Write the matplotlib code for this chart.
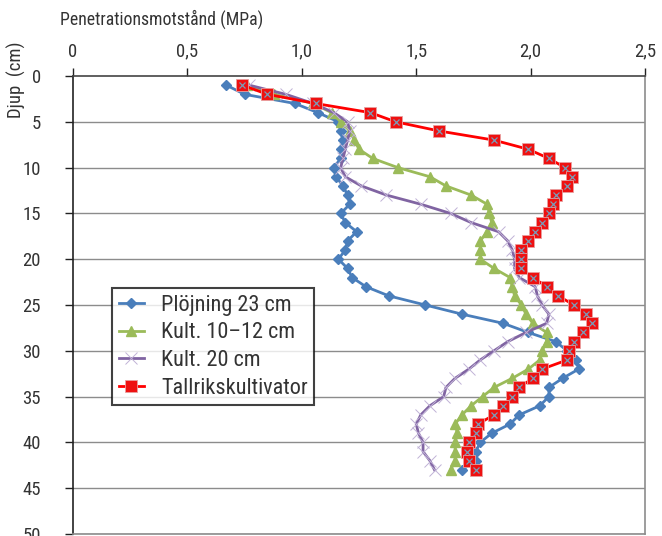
import numpy as np
import matplotlib
matplotlib.use("Agg")
import matplotlib.pyplot as plt
from matplotlib import font_manager

# Penetration resistance profiles per tillage method, one reading per cm of depth
depth = list(range(1, 44))

plojning = [0.67, 0.75, 0.97, 1.07, 1.16, 1.17, 1.18, 1.17, 1.17, 1.14,
            1.15, 1.18, 1.20, 1.21, 1.17, 1.19, 1.24, 1.20, 1.19, 1.16,
            1.20, 1.22, 1.28, 1.38, 1.54, 1.70, 1.88, 1.99, 2.11, 2.16,
            2.20, 2.21, 2.14, 2.08, 2.08, 2.04, 1.95, 1.91, 1.83, 1.78,
            1.76, 1.76, 1.70]

kult_10_12 = [0.76, 0.88, 1.05, 1.13, 1.17, 1.21, 1.23, 1.25, 1.31, 1.42,
              1.56, 1.63, 1.74, 1.81, 1.82, 1.83, 1.81, 1.78, 1.78, 1.78,
              1.84, 1.91, 1.92, 1.93, 1.96, 1.98, 2.01, 2.07, 2.07, 2.05,
              2.04, 1.99, 1.92, 1.84, 1.79, 1.74, 1.70, 1.67, 1.68, 1.67,
              1.67, 1.67, 1.65]

kult_20 = [0.77, 0.93, 1.05, 1.14, 1.20, 1.21, 1.20, 1.19, 1.18, 1.17,
           1.19, 1.26, 1.37, 1.52, 1.65, 1.74, 1.86, 1.90, 1.92, 1.93,
           1.93, 1.95, 2.02, 2.03, 2.05, 2.08, 2.07, 1.98, 1.90, 1.84,
           1.78, 1.73, 1.67, 1.63, 1.62, 1.56, 1.52, 1.50, 1.51, 1.53,
           1.53, 1.56, 1.58]

tallrik = [0.74, 0.85, 1.06, 1.30, 1.41, 1.60, 1.84, 1.99, 2.08, 2.15,
           2.18, 2.16, 2.11, 2.10, 2.08, 2.05, 2.02, 1.99, 1.96, 1.96,
           1.96, 2.01, 2.07, 2.12, 2.19, 2.24, 2.27, 2.23, 2.19, 2.17,
           2.16, 2.05, 2.01, 1.95, 1.92, 1.88, 1.84, 1.77, 1.76, 1.73,
           1.72, 1.73, 1.76]

labels = ["Plöjning 23 cm", "Kult. 10–12 cm", "Kult. 20 cm", "Tallrikskultivator"]
x_ticks = [0, 0.5, 1.0, 1.5, 2.0, 2.5]
x_ticklabels = ["0", "0,5", "1,0", "1,5", "2,0", "2,5"]
y_ticks = list(range(0, 55, 5))

installed = {f.name for f in font_manager.fontManager.ttflist}
family = [f for f in ["Roboto Condensed", "Liberation Sans Narrow", "Roboto"] if f in installed]
plt.rcParams["font.family"] = family + ["DejaVu Sans"]
narrow = family[0] != "Roboto"
k = 1.0 if narrow else 0.85
txt = "#333333"

fig = plt.figure(figsize=(6.62, 5.36), dpi=100)
ax = fig.add_axes([73 / 662, 2 / 536, 572 / 662, 458 / 536])

for y in y_ticks[1:]:
    ax.axhline(y, color="#8c8c8c", lw=1.0, zorder=1)

ax.plot(plojning, depth, color="#4a7ebb", lw=2.0, marker="D", ms=5,
        mfc="#4a7ebb", mec="#4a7ebb", label=labels[0], zorder=3)
ax.plot(kult_10_12, depth, color="#9bbb59", lw=2.0, marker="^", ms=7,
        mfc="#9bbb59", mec="#9bbb59", label=labels[1], zorder=3)
ax.plot(kult_20, depth, color="#8064a2", lw=2.0, marker="x", ms=8, mew=0.7,
        mec="#c0b2d6", label=labels[2], zorder=3)
ax.plot(tallrik, depth, color="#ff0000", lw=2.0, marker="s", ms=8,
        mfc="#ee1111", mec="#e8a0a0", mew=0.6, label=labels[3], zorder=4)
# small grey-blue cross inside each red square
ax.plot(tallrik, depth, ls="none", marker="x", ms=4, mew=0.9,
        mec="#7a9cb8", zorder=5)

ax.set_xlim(0, 2.5)
ax.set_ylim(50, 0)
ax.xaxis.tick_top()
ax.set_xticks(x_ticks)
ax.set_xticklabels(x_ticklabels)
ax.set_yticks(y_ticks)
ax.tick_params(axis="x", which="major", direction="out", length=6, width=1,
               pad=5, labelsize=13.5 * k, labelcolor=txt, color="#222222")
ax.tick_params(axis="y", which="major", direction="out", length=6, width=1,
               pad=17, labelsize=13.5 * k, labelcolor=txt, color="#222222")

ax.spines["left"].set_color("#222222")
ax.spines["top"].set_color("#444444")
ax.spines["right"].set_color("#8c8c8c")
ax.spines["bottom"].set_color("#8c8c8c")
for s in ax.spines.values():
    s.set_linewidth(1.2)

fig.text(60 / 662, 1 - 19 / 536, "Penetrationsmotstånd (MPa)",
         fontsize=12.8 * (1.0 if narrow else 0.85), color=txt, ha="left", va="center")
fig.text(16 / 662, 1 - 80 / 536, "Djup  (cm)", fontsize=13.5 * k, color=txt,
         rotation=90, ha="center", va="center")

leg = ax.legend(loc="upper left", bbox_to_anchor=((112 - 73) / 572, (534 - 288) / 458),
                fontsize=16 * (1.0 if narrow else 0.89), frameon=True, fancybox=False,
                borderpad=0.3, labelspacing=0.3, handlelength=1.15, handletextpad=0.75,
                borderaxespad=0)
leg.get_frame().set_edgecolor("#111111")
leg.get_frame().set_linewidth(1.5)
for t in leg.get_texts():
    t.set_color(txt)

fig.savefig("out.png", dpi=100)
